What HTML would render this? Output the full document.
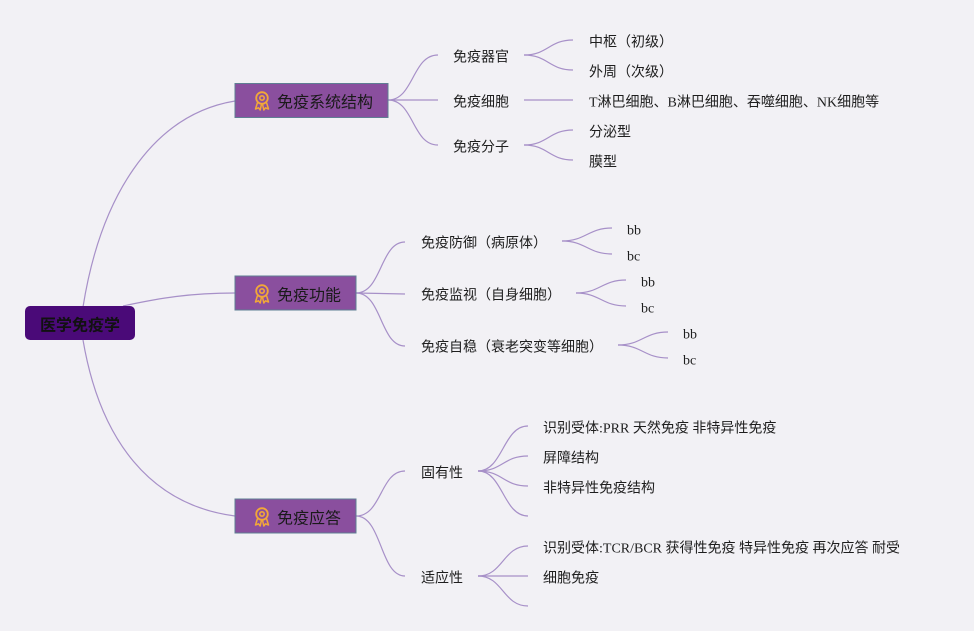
<!DOCTYPE html>
<html><head><meta charset="utf-8"><style>
html,body{margin:0;padding:0;background:#f2f1f5;}
svg{display:block;}
text{font-family:"Liberation Serif","Noto Sans CJK SC",sans-serif;fill:#1e1e1e;}
.l1{font-family:"Liberation Sans","Noto Sans CJK SC",sans-serif;font-size:16px;fill:#1a1a1a;}
.t{font-size:14px;}
.c{fill:none;stroke:#a790c8;stroke-width:1.2;}
</style></head><body>
<svg width="974" height="631" viewBox="0 0 974 631" xmlns="http://www.w3.org/2000/svg">
<rect width="974" height="631" fill="#f2f1f5"/>
<defs>
<g id="ic">
<circle cx="0" cy="-3" r="5.8" fill="none" stroke="#f2a838" stroke-width="1.8"/>
<circle cx="0" cy="-3" r="2.2" fill="none" stroke="#f2a838" stroke-width="1.6"/>
<path d="M-4.5,1.5 L-6.5,8 L-3.5,6.8 L-1.8,9 L-0.5,3 M4.5,1.5 L6.5,8 L3.5,6.8 L1.8,9 L0.5,3" fill="none" stroke="#f2a838" stroke-width="1.5" stroke-linejoin="round"/>
</g>
</defs>
<!-- root connectors -->
<path class="c" d="M83,307 C100,200 150,115 235,101"/>
<path class="c" d="M123,306 C160,298 190,293 235,293"/>
<path class="c" d="M83,340 C100,440 150,505 235,516"/>
<!-- box1 children -->
<path class="c" d="M388,100 C414,100 412,55 438,55"/>
<path class="c" d="M388,100 L438,100"/>
<path class="c" d="M388,100 C414,100 412,145 438,145"/>
<path class="c" d="M524,55 C548,55 549,40 573,40"/>
<path class="c" d="M524,55 C548,55 549,70 573,70"/>
<path class="c" d="M524,100 L573,100"/>
<path class="c" d="M524,145 C548,145 549,130 573,130"/>
<path class="c" d="M524,145 C548,145 549,160 573,160"/>
<!-- box2 children -->
<path class="c" d="M356,293 C382,293 380,242 405,242"/>
<path class="c" d="M356,293 L405,294"/>
<path class="c" d="M356,293 C382,293 380,346 405,346"/>
<path class="c" d="M562,241 C586,241 588,228 612,228"/>
<path class="c" d="M562,241 C586,241 588,254 612,254"/>
<path class="c" d="M576,293 C600,293 602,280 626,280"/>
<path class="c" d="M576,293 C600,293 602,306 626,306"/>
<path class="c" d="M618,345 C642,345 644,332 668,332"/>
<path class="c" d="M618,345 C642,345 644,358 668,358"/>
<!-- box3 children -->
<path class="c" d="M356,516 C382,516 380,471 405,471"/>
<path class="c" d="M356,516 C382,516 380,576 405,576"/>
<path class="c" d="M478,471 C503,471 503,426 528,426"/>
<path class="c" d="M478,471 C503,471 503,456 528,456"/>
<path class="c" d="M478,471 C503,471 503,486 528,486"/>
<path class="c" d="M478,471 C503,471 503,516 528,516"/>
<path class="c" d="M478,576 C503,576 503,546 528,546"/>
<path class="c" d="M478,576 L528,576"/>
<path class="c" d="M478,576 C503,576 503,606 528,606"/>
<!-- root -->
<rect x="25" y="306" width="110" height="34" rx="5" fill="#4a0a78"/>
<!-- level 1 boxes -->
<rect x="235" y="83.5" width="153" height="34" fill="#8a4f9e" stroke="#5f7e93" stroke-width="1"/>
<use href="#ic" x="262" y="101"/>
<rect x="235" y="276" width="121" height="34" fill="#8a4f9e" stroke="#5f7e93" stroke-width="1"/>
<use href="#ic" x="262" y="294"/>
<rect x="235" y="499" width="121" height="34" fill="#8a4f9e" stroke="#5f7e93" stroke-width="1"/>
<use href="#ic" x="262" y="517"/>
<g transform="translate(0,2)">
<text x="80" y="324" text-anchor="middle" dominant-baseline="central" style="font-family:'Liberation Sans','Noto Sans CJK SC',sans-serif;font-size:16px;font-weight:bold;fill:#111;">医学免疫学</text>
<text class="l1" x="277" y="101" dominant-baseline="central">免疫系统结构</text>
<text class="l1" x="277" y="294" dominant-baseline="central">免疫功能</text>
<text class="l1" x="277" y="517" dominant-baseline="central">免疫应答</text>
<text class="t" x="453" y="56" dominant-baseline="central">免疫器官</text>
<text class="t" x="453" y="101" dominant-baseline="central">免疫细胞</text>
<text class="t" x="453" y="146" dominant-baseline="central">免疫分子</text>
<text class="t" x="589" y="41" dominant-baseline="central">中枢（初级）</text>
<text class="t" x="589" y="71" dominant-baseline="central">外周（次级）</text>
<text class="t" x="589" y="101" dominant-baseline="central">T淋巴细胞、B淋巴细胞、吞噬细胞、NK细胞等</text>
<text class="t" x="589" y="131" dominant-baseline="central">分泌型</text>
<text class="t" x="589" y="161" dominant-baseline="central">膜型</text>

<text class="t" x="421" y="242" dominant-baseline="central">免疫防御（病原体）</text>
<text class="t" x="421" y="294" dominant-baseline="central">免疫监视（自身细胞）</text>
<text class="t" x="421" y="346" dominant-baseline="central">免疫自稳（衰老突变等细胞）</text>
<text class="t" x="627" y="229" dominant-baseline="central">bb</text>
<text class="t" x="627" y="255" dominant-baseline="central">bc</text>
<text class="t" x="641" y="281" dominant-baseline="central">bb</text>
<text class="t" x="641" y="307" dominant-baseline="central">bc</text>
<text class="t" x="683" y="333" dominant-baseline="central">bb</text>
<text class="t" x="683" y="359" dominant-baseline="central">bc</text>

<text class="t" x="421" y="472" dominant-baseline="central">固有性</text>
<text class="t" x="421" y="577" dominant-baseline="central">适应性</text>
<text class="t" x="543" y="427" dominant-baseline="central">识别受体:PRR 天然免疫 非特异性免疫</text>
<text class="t" x="543" y="457" dominant-baseline="central">屏障结构</text>
<text class="t" x="543" y="487" dominant-baseline="central">非特异性免疫结构</text>
<text class="t" x="543" y="547" dominant-baseline="central">识别受体:TCR/BCR 获得性免疫 特异性免疫 再次应答 耐受</text>
<text class="t" x="543" y="577" dominant-baseline="central">细胞免疫</text>
</g>
</svg>
</body></html>
